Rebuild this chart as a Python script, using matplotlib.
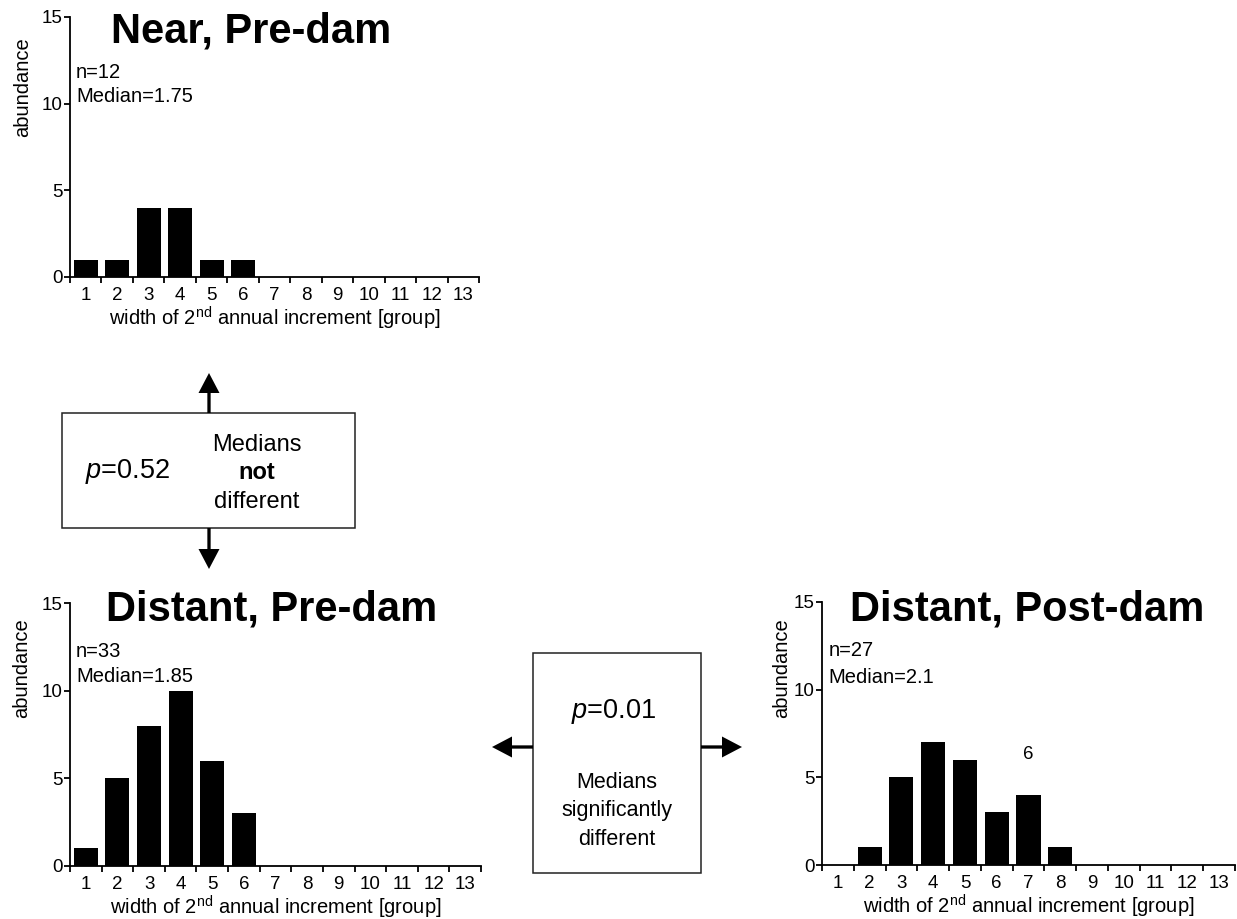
import matplotlib
matplotlib.use("Agg")
import matplotlib.pyplot as plt
from matplotlib.patches import FancyArrow, Rectangle
from matplotlib.ticker import FixedLocator, NullFormatter, FixedFormatter
import numpy as np

plt.rcParams['font.family'] = ['Liberation Sans', 'DejaVu Sans']
plt.rcParams['mathtext.fontset'] = 'custom'
plt.rcParams['mathtext.rm'] = 'Liberation Sans'
plt.rcParams['mathtext.it'] = 'Liberation Sans:italic'
plt.rcParams['mathtext.bf'] = 'Liberation Sans:bold'

# datos: abundancia por grupo de anchura (1..13)
grupos = np.arange(1, 14)
near_pre = [1, 1, 4, 4, 1, 1, 0, 0, 0, 0, 0, 0, 0]
distant_pre = [1, 5, 8, 10, 6, 3, 0, 0, 0, 0, 0, 0, 0]
distant_post = [0, 1, 5, 7, 6, 3, 4, 1, 0, 0, 0, 0, 0]

titulos = ["Near, Pre-dam", "Distant, Pre-dam", "Distant, Post-dam"]
n_txt = ["n=12", "n=33", "n=27"]
med_txt = ["Median=1.75", "Median=1.85", "Median=2.1"]
yticks = [0, 5, 10, 15]
xlabel = r"width of 2$^{\mathrm{nd}}$ annual increment [group]"

W, H = 1237, 919
fig = plt.figure(figsize=(W / 100, H / 100), dpi=100)


def px_axes(l, r, t, b):
    return fig.add_axes([l / W, 1 - b / H, (r - l) / W, (b - t) / H])


def panel(ax, vals, titulo, n, med, tpos, ypos, ylab_y):
    ax.bar(grupos, vals, width=0.76, color='black', linewidth=0)
    ax.set_xlim(0.5, 13.5)
    ax.set_ylim(0, 15)
    for s in ['top', 'right']:
        ax.spines[s].set_visible(False)
    for s in ['left', 'bottom']:
        ax.spines[s].set_linewidth(1.3)
    ax.set_yticks(yticks)
    ax.tick_params(axis='y', direction='out', length=4.5, width=1.3,
                   labelsize=13.5, pad=1)
    # ticks en los bordes de grupo, etiquetas centradas
    ax.xaxis.set_major_locator(FixedLocator(np.arange(0.5, 14, 1)))
    ax.xaxis.set_major_formatter(NullFormatter())
    ax.xaxis.set_minor_locator(FixedLocator(grupos))
    ax.xaxis.set_minor_formatter(FixedFormatter([str(g) for g in grupos]))
    ax.tick_params(axis='x', which='major', direction='out', length=4.5,
                   width=1.3)
    ax.tick_params(axis='x', which='minor', length=0, labelsize=13.5, pad=7.5)
    ax.set_xlabel(xlabel, fontsize=14.5, labelpad=0.5)
    ax.text(tpos[0], tpos[1], titulo, transform=ax.transAxes, ha='center',
            va='baseline', fontsize=30, fontweight='bold')
    ax.text(0.015, ypos[0], n, fontsize=14.5, va='baseline',
            transform=ax.get_yaxis_transform())
    ax.text(0.015, ypos[1], med, fontsize=14.5, va='baseline',
            transform=ax.get_yaxis_transform())
    ax.text(ylab_y[0], ylab_y[1], "abundance", transform=ax.transAxes,
            rotation=90, ha='center', va='center', fontsize=14.5)


ax1 = px_axes(70, 479, 17, 277)
panel(ax1, near_pre, titulos[0], n_txt[0], med_txt[0], (0.443, 0.9),
      (11.5, 10.1), (-0.117, 0.73))

ax2 = px_axes(70, 481, 603, 866)
panel(ax2, distant_pre, titulos[1], n_txt[1], med_txt[1], (0.49, 0.935),
      (11.9, 10.5), (-0.117, 0.753))

ax3 = px_axes(822, 1235, 602, 865)
panel(ax3, distant_post, titulos[2], n_txt[2], med_txt[2], (0.497, 0.93),
      (11.9, 10.4), (-0.097, 0.749))
ax3.text(7, 6.3, "6", ha='center', va='center', fontsize=13.5)

# capa para cajas y flechas (coordenadas en pixeles)
ov = fig.add_axes([0, 0, 1, 1], zorder=-1)
ov.set_xlim(0, W)
ov.set_ylim(H, 0)
ov.axis('off')

ov.add_patch(Rectangle((62, 413), 293, 115, fill=False, edgecolor='#222222',
                       linewidth=1.1))
ov.add_patch(Rectangle((533, 653), 168, 220, fill=False, edgecolor='#222222',
                       linewidth=1.1))

flecha = dict(width=3.3, head_width=21, head_length=20,
              length_includes_head=True, color='black', linewidth=0)
ov.add_patch(FancyArrow(209, 413, 0, -40, **flecha))
ov.add_patch(FancyArrow(209, 528, 0, 41, **flecha))
ov.add_patch(FancyArrow(533, 747, -41, 0, **flecha))
ov.add_patch(FancyArrow(701, 747, 41, 0, **flecha))

ov.text(128, 478, r"$p$=0.52", ha='center', va='baseline', fontsize=19.5)
ov.text(257, 451, "Medians", ha='center', va='baseline', fontsize=17)
ov.text(257, 479, "not", ha='center', va='baseline', fontsize=17,
        fontweight='bold')
ov.text(257, 508, "different", ha='center', va='baseline', fontsize=17)

ov.text(614, 718, r"$p$=0.01", ha='center', va='baseline', fontsize=19.5)
ov.text(617, 788, "Medians", ha='center', va='baseline', fontsize=15.5)
ov.text(617, 816, "significantly", ha='center', va='baseline', fontsize=15.5)
ov.text(617, 845, "different", ha='center', va='baseline', fontsize=15.5)

fig.savefig("out.png", dpi=100)
